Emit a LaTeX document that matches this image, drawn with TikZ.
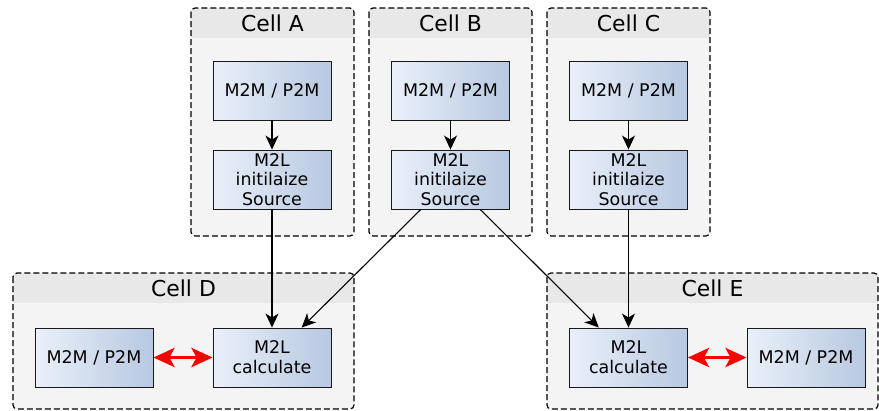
\documentclass[tikz,border=0pt]{standalone}
\usepackage{fontspec}
\setmainfont{DejaVu Sans}
\usetikzlibrary{calc,arrows.meta}
\definecolor{cellbody}{HTML}{F4F4F4}
\definecolor{cellhead}{HTML}{E8E8E8}
\definecolor{boxleft}{HTML}{EAF0F9}
\definecolor{boxright}{HTML}{B7C8E1}
\tikzset{
  task/.style={draw=black!90, line width=0.9bp, left color=boxleft, right color=boxright,
    minimum width=118bp, minimum height=59bp, align=center, inner sep=1bp,
    font=\fontsize{17.5}{19.8}\selectfont},
  flow/.style={-{Stealth[length=14bp,width=13bp,inset=4bp]}, line width=1.1bp},
  swap/.style={{Stealth[length=21bp,width=19bp,inset=5bp]}-{Stealth[length=21bp,width=19bp,inset=5bp]}, line width=3.8bp, red},
}
\def\cell(#1,#2)(#3,#4)#5{
  \fill[cellbody, rounded corners=4bp] (#1,#2) rectangle (#3,#4);
  \begin{scope}
    \clip[rounded corners=4bp] (#1,#2) rectangle (#3,#4);
    \fill[cellhead] (#1,#2) rectangle (#3,#2+30);
  \end{scope}
  \draw[line width=1.2bp, dash pattern=on 6bp off 3bp, rounded corners=4bp] (#1,#2) rectangle (#3,#4);
  \node[font=\fontsize{22}{26}\selectfont] at ({(#1+#3)/2},#2+15) {#5};
}

\begin{document}
\begin{tikzpicture}[x=1bp,y=-1bp]
  \useasboundingbox (0,0) rectangle (879,410);

  % cells
  \cell(191,8)(354,236){Cell A}
  \cell(369,8)(532,236){Cell B}
  \cell(547,8)(710,236){Cell C}
  \cell(13,273)(354,409){Cell D}
  \cell(547,273)(878,409){Cell E}

  % tasks
  \node[task] (a1) at (272,90.5) {M2M / P2M};
  \node[task] (a2) at (272,179.5) {M2L\\initilaize\\Source};
  \node[task] (b1) at (450.5,90.5) {M2M / P2M};
  \node[task] (b2) at (450.5,179.5) {M2L\\initilaize\\Source};
  \node[task] (c1) at (628.5,90.5) {M2M / P2M};
  \node[task] (c2) at (628.5,179.5) {M2L\\initilaize\\Source};
  \node[task] (d1) at (94,357.5) {M2M / P2M};
  \node[task] (d2) at (272,357.5) {M2L\\calculate};
  \node[task] (e1) at (628.5,357.5) {M2L\\calculate};
  \node[task] (e2) at (806,357.5) {M2M / P2M};

  % dependencies
  \draw[flow] (a1) -- (a2);
  \draw[flow] (b1) -- (b2);
  \draw[flow] (c1) -- (c2);
  \draw[flow] (a2) -- (d2);
  \draw[flow] (c2) -- (e1);
  \draw[flow] ($(b2.south west)!0.25!(b2.south east)$) -- ($(d2.north west)!0.75!(d2.north east)$);
  \draw[flow] ($(b2.south west)!0.75!(b2.south east)$) -- ($(e1.north west)!0.25!(e1.north east)$);

  % exchange
  \draw[swap] (d1) -- (d2);
  \draw[swap] (e1) -- (e2);
\end{tikzpicture}
\end{document}
